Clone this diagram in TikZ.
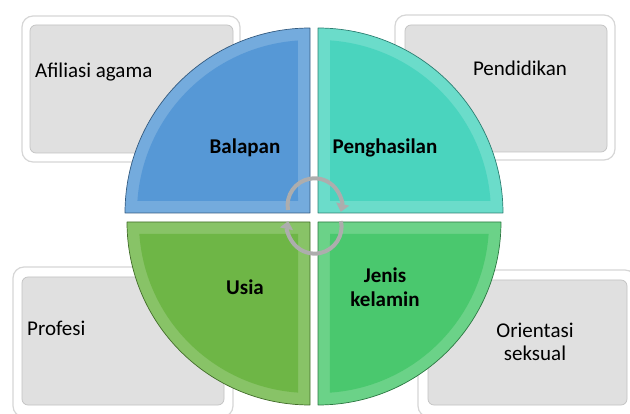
\documentclass[tikz,border=0pt]{standalone}
\usepackage{fontspec}
\setmainfont{Carlito}
\usetikzlibrary{arrows.meta}
\definecolor{qblue}{RGB}{86,152,214}
\definecolor{qteal}{RGB}{74,212,190}
\definecolor{qlime}{RGB}{110,182,70}
\definecolor{qgreen}{RGB}{74,200,110}
\definecolor{boxgray}{RGB}{224,224,224}
\tikzset{
  frame/.style={fill=white,draw=black!16,line width=1.2pt,rounded corners=11pt},
  panel/.style={fill=boxgray,draw=black!24,line width=0.7pt,rounded corners=6pt},
  rim/.style={fill=#1!82!white,draw=#1!60!black,line width=0.7pt},
  face/.style={fill=#1},
  boxtext/.style={font=\fontsize{21}{23.5}\selectfont,text=black,align=center,inner sep=0pt},
  qtext/.style={font=\fontsize{21}{23.5}\selectfont\bfseries,text=black,align=center,inner sep=0pt},
  cycarrow/.style={draw=black!32,line width=4pt,-{Triangle[length=8pt,width=13pt]}},
}
\begin{document}
\begin{tikzpicture}[x=1pt,y=1pt,line join=round]
\useasboundingbox (0,0) rectangle (630,413);
% grey boxes behind the circle
\draw[frame] (22,251) rectangle (240,397);
\draw[panel] (30,260) rectangle (233,388);
\draw[frame] (395,253) rectangle (615,398);
\draw[panel] (405,261) rectangle (607,388);
\draw[frame] (13,146) rectangle (233,-4);
\draw[panel] (22,8) rectangle (224,136);
\draw[frame] (418,143) rectangle (636,-4);
\draw[panel] (428,8) rectangle (627,133);
\node[boxtext,anchor=west] (afiliasi) at (35,341) {Afiliasi agama};
\node[boxtext] (pendidikan) at (520,345) {Pendidikan};
\node[boxtext,anchor=west] (profesi) at (27,85) {Profesi};
\node[boxtext] (orientasi) at (535,71) {Orientasi\\seksual};
% four quadrants
\draw[rim=qblue] (310,200) -- (125,200) arc[start angle=180,end angle=90,radius=185] -- cycle;
\fill[face=qblue] (298,212) -- (137.4,212) arc[start angle=176,end angle=94,radius=173] -- cycle;
\draw[rim=qteal] (318,200) -- (318,385) arc[start angle=90,end angle=0,radius=185] -- cycle;
\fill[face=qteal] (330,212) -- (330,372.6) arc[start angle=86,end angle=4,radius=173] -- cycle;
\draw[rim=qlime] (310,191) -- (310,8) arc[start angle=270,end angle=180,radius=183] -- cycle;
\fill[face=qlime] (298,179) -- (298,20.4) arc[start angle=266,end angle=184,radius=171] -- cycle;
\draw[rim=qgreen] (318,191) -- (501,191) arc[start angle=0,end angle=-90,radius=183] -- cycle;
\fill[face=qgreen] (330,179) -- (488.6,179) arc[start angle=-4,end angle=-86,radius=171] -- cycle;
\node[qtext] (balapan) at (245,265) {Balapan};
\node[qtext] (penghasilan) at (385,265) {Penghasilan};
\node[qtext] (usia) at (245,126) {Usia};
\node[qtext] (jenis) at (385,126) {Jenis\\kelamin};
% cycle arrows
\draw[cycarrow] (288,203) arc[start angle=190,end angle=-14,radius=27];
\draw[cycarrow] (341,192) arc[start angle=12,end angle=-192,radius=27];
\end{tikzpicture}
\end{document}
